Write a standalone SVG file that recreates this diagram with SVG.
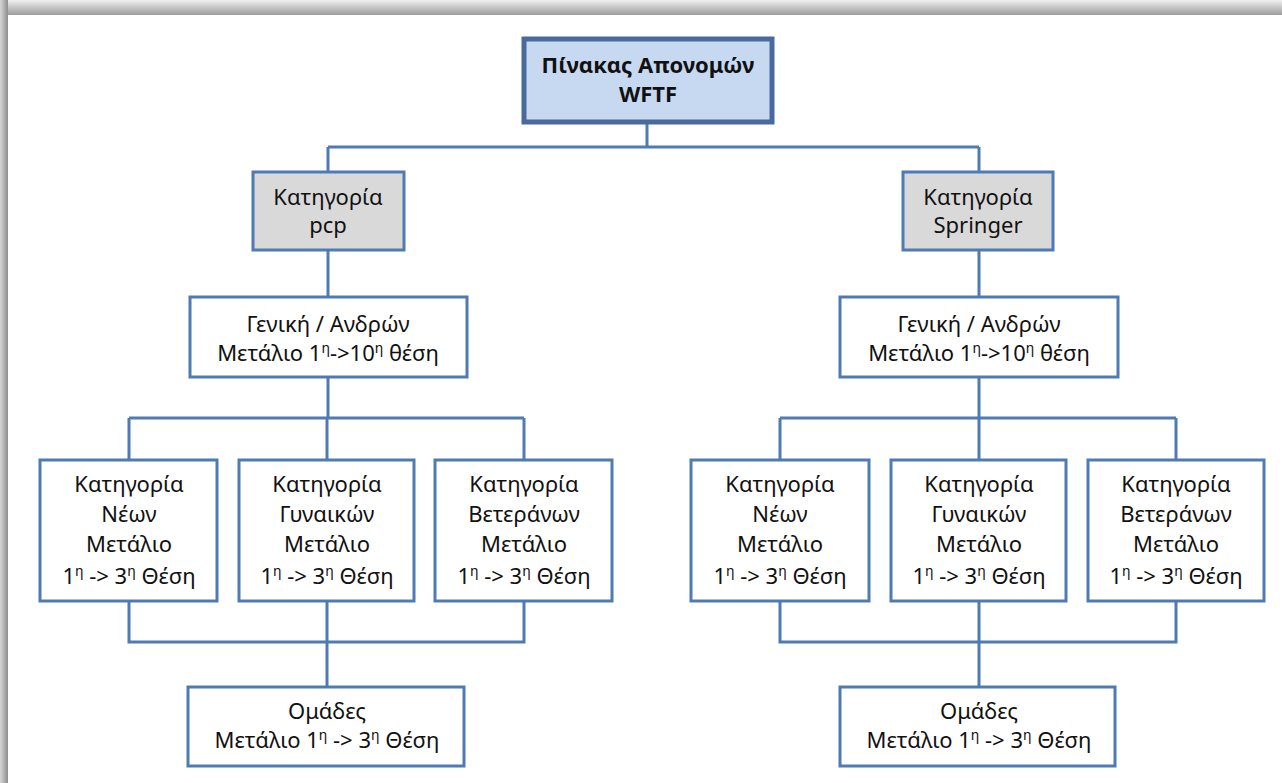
<svg xmlns="http://www.w3.org/2000/svg" width="1282" height="783" viewBox="0 0 1282 783">
  <defs>
    <linearGradient id="gTop" x1="0" y1="0" x2="0" y2="1">
      <stop offset="0" stop-color="#f0f0f0"/>
      <stop offset="1" stop-color="#9c9c9c"/>
    </linearGradient>
    <linearGradient id="gLeft" x1="0" y1="0" x2="1" y2="0">
      <stop offset="0" stop-color="#d6d6d6"/>
      <stop offset="1" stop-color="#8e8e8e"/>
    </linearGradient>
  </defs>
  <style>
    .box { fill: #ffffff; stroke: #4f7bb5; stroke-width: 3; }
    .cat { fill: #d9d9d9; stroke: #4f7bb5; stroke-width: 3; }
    .root { fill: #c6d9f1; stroke: #4a6a9c; stroke-width: 5; }
    .conn { fill: none; stroke: #4f7bb5; stroke-width: 3; }
    text { font-family: "Noto Sans", "Open Sans", sans-serif; font-size: 22px; fill: #111111; text-anchor: middle; }
    .bold { font-weight: bold; }
    .sup { font-size: 14px; }
  </style>

  <!-- page frame -->
  <rect x="0" y="0" width="1282" height="783" fill="#c8c8c8"/>
  <rect x="0" y="0" width="1282" height="15" fill="url(#gTop)"/>
  <rect x="0" y="0" width="8" height="783" fill="url(#gLeft)"/>
  <rect x="8" y="15" width="1274" height="768" fill="#ffffff"/>

  <g id="connectors">
    <path class="conn" d="M647,122 V147 M328,147 H979 M328,147 V172 M979,147 V172"/>
    <path class="conn" d="M328,250 V297 M979,250 V297"/>
    <path class="conn" d="M328,377 V418 M129,418 H524 M129,418 V460 M327,418 V460 M524,418 V460"/>
    <path class="conn" d="M979,377 V418 M780,418 H1176 M780,418 V460 M979,418 V460 M1176,418 V460"/>
    <path class="conn" d="M129,601 V642 H524 V601 M327,601 V687"/>
    <path class="conn" d="M780,601 V642 H1176 V601 M979,601 V687"/>
  </g>

  <g id="root">
    <rect class="root" x="524" y="39" width="248" height="83"/>
    <text class="bold" x="648" y="73">Πίνακας Απονομών</text>
    <text class="bold" x="648" y="102">WFTF</text>
  </g>

  <g id="cat-pcp">
    <rect class="cat" x="253" y="172" width="151" height="78"/>
    <text x="328" y="205">Κατηγορία</text>
    <text x="328" y="233">pcp</text>
  </g>
  <g id="cat-springer">
    <rect class="cat" x="903" y="172" width="150" height="78"/>
    <text x="978" y="205">Κατηγορία</text>
    <text x="978" y="233">Springer</text>
  </g>

  <g id="general-pcp">
    <rect class="box" x="190" y="297" width="277" height="80"/>
    <text x="328" y="332">Γενική / Ανδρών</text>
    <text x="328" y="361">Μετάλιο 1<tspan class="sup" dy="-8">η</tspan><tspan dy="8">-&gt;10</tspan><tspan class="sup" dy="-8">η</tspan><tspan dy="8"> θέση</tspan></text>
  </g>
  <g id="general-springer">
    <rect class="box" x="840" y="297" width="278" height="80"/>
    <text x="979" y="332">Γενική / Ανδρών</text>
    <text x="979" y="361">Μετάλιο 1<tspan class="sup" dy="-8">η</tspan><tspan dy="8">-&gt;10</tspan><tspan class="sup" dy="-8">η</tspan><tspan dy="8"> θέση</tspan></text>
  </g>

  <g id="neon-pcp">
    <rect class="box" x="40" y="460" width="177" height="141"/>
    <text x="129" y="492">Κατηγορία</text>
    <text x="129" y="522">Νέων</text>
    <text x="129" y="552">Μετάλιο</text>
    <text x="129" y="584">1<tspan class="sup" dy="-8">η</tspan><tspan dy="8"> -&gt; 3</tspan><tspan class="sup" dy="-8">η</tspan><tspan dy="8"> Θέση</tspan></text>
  </g>
  <g id="women-pcp">
    <rect class="box" x="239" y="460" width="175" height="141"/>
    <text x="327" y="492">Κατηγορία</text>
    <text x="327" y="522">Γυναικών</text>
    <text x="327" y="552">Μετάλιο</text>
    <text x="327" y="584">1<tspan class="sup" dy="-8">η</tspan><tspan dy="8"> -&gt; 3</tspan><tspan class="sup" dy="-8">η</tspan><tspan dy="8"> Θέση</tspan></text>
  </g>
  <g id="veterans-pcp">
    <rect class="box" x="435" y="460" width="177" height="141"/>
    <text x="524" y="492">Κατηγορία</text>
    <text x="524" y="522">Βετεράνων</text>
    <text x="524" y="552">Μετάλιο</text>
    <text x="524" y="584">1<tspan class="sup" dy="-8">η</tspan><tspan dy="8"> -&gt; 3</tspan><tspan class="sup" dy="-8">η</tspan><tspan dy="8"> Θέση</tspan></text>
  </g>

  <g id="neon-springer">
    <rect class="box" x="691" y="460" width="178" height="141"/>
    <text x="780" y="492">Κατηγορία</text>
    <text x="780" y="522">Νέων</text>
    <text x="780" y="552">Μετάλιο</text>
    <text x="780" y="584">1<tspan class="sup" dy="-8">η</tspan><tspan dy="8"> -&gt; 3</tspan><tspan class="sup" dy="-8">η</tspan><tspan dy="8"> Θέση</tspan></text>
  </g>
  <g id="women-springer">
    <rect class="box" x="891" y="460" width="175" height="141"/>
    <text x="979" y="492">Κατηγορία</text>
    <text x="979" y="522">Γυναικών</text>
    <text x="979" y="552">Μετάλιο</text>
    <text x="979" y="584">1<tspan class="sup" dy="-8">η</tspan><tspan dy="8"> -&gt; 3</tspan><tspan class="sup" dy="-8">η</tspan><tspan dy="8"> Θέση</tspan></text>
  </g>
  <g id="veterans-springer">
    <rect class="box" x="1088" y="460" width="176" height="141"/>
    <text x="1176" y="492">Κατηγορία</text>
    <text x="1176" y="522">Βετεράνων</text>
    <text x="1176" y="552">Μετάλιο</text>
    <text x="1176" y="584">1<tspan class="sup" dy="-8">η</tspan><tspan dy="8"> -&gt; 3</tspan><tspan class="sup" dy="-8">η</tspan><tspan dy="8"> Θέση</tspan></text>
  </g>

  <g id="teams-pcp">
    <rect class="box" x="188" y="687" width="276" height="79"/>
    <text x="327" y="719">Ομάδες</text>
    <text x="327" y="748">Μετάλιο 1<tspan class="sup" dy="-8">η</tspan><tspan dy="8"> -&gt; 3</tspan><tspan class="sup" dy="-8">η</tspan><tspan dy="8"> Θέση</tspan></text>
  </g>
  <g id="teams-springer">
    <rect class="box" x="840" y="687" width="275" height="79"/>
    <text x="979" y="719">Ομάδες</text>
    <text x="979" y="748">Μετάλιο 1<tspan class="sup" dy="-8">η</tspan><tspan dy="8"> -&gt; 3</tspan><tspan class="sup" dy="-8">η</tspan><tspan dy="8"> Θέση</tspan></text>
  </g>
</svg>
